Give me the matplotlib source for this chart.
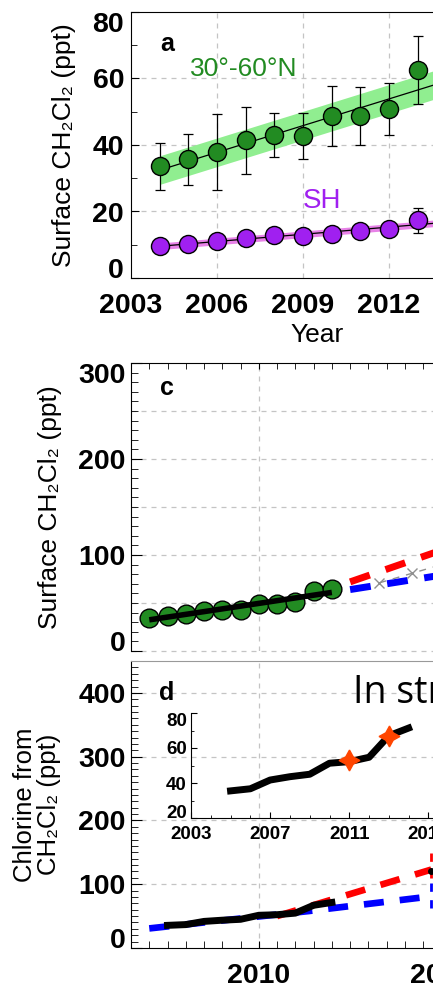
import numpy as np
import matplotlib
matplotlib.use('Agg')
import matplotlib.pyplot as plt
from matplotlib.patches import Rectangle
from matplotlib.ticker import MultipleLocator, NullFormatter

plt.rcParams['font.family'] = ['Liberation Sans', 'DejaVu Sans']
plt.rcParams['font.weight'] = 'bold'
plt.rcParams['xtick.direction'] = 'in'
plt.rcParams['ytick.direction'] = 'in'

# --- panel a: surface CH2Cl2 annual means ---
years_a = [2004, 2005, 2006, 2007, 2008, 2009, 2010, 2011, 2012, 2013]
nh_mean = [33.6, 35.7, 37.9, 41.4, 42.9, 42.7, 48.7, 48.6, 50.9, 62.5]
nh_err = [7.0, 7.6, 11.5, 10.0, 6.6, 6.9, 9.0, 8.7, 7.8, 10.2]
sh_mean = [9.7, 10.2, 11.1, 12.0, 12.8, 12.6, 13.3, 14.2, 14.7, 17.3]
sh_err = [0.8, 0.8, 0.9, 0.9, 1.0, 1.0, 1.0, 1.1, 1.2, 3.7]
nh_band = 4.3
sh_band = 1.0

# --- panel c: surface record and projections ---
years_c = [2004, 2005, 2006, 2007, 2008, 2009, 2010, 2011, 2012, 2013, 2014]
surf_c = [34.5, 36.5, 38.5, 41.7, 43.2, 43.0, 49.2, 49.0, 51.0, 63.0, 64.5]
proj_years_c = [2015, 2021]
high_c = [72, 111.6]
low_c = [64, 82]
mid_years_c = [2016.6, 2018.4, 2020.2]
mid_c = [71, 81, 91]

# --- panel d: chlorine from CH2Cl2 ---
cl_years = [2005, 2006, 2007, 2008, 2009, 2010, 2011, 2012, 2013, 2014]
cl_obs = [35.5, 36.7, 41.7, 43.6, 45.0, 51.3, 52.2, 54.7, 67.0, 71.4]
high_years_d = [2011, 2019.45]
high_d = [50, 123]
low_years_d = [2004, 2012.7, 2019.45]
low_d = [30.7, 57.8, 81]
range_year = 2019.45
high_range = [110, 152]
low_range = [62, 104]
star_years = [2011, 2013]
star_vals = [53, 67]

GREEN = '#228B22'
PURPLE = '#A020F0'
GRID = dict(color='#c4c4c4', lw=0.9, ls=(0, (4, 4)), zorder=0)
TICK_FS = 20.5

fig = plt.figure(figsize=(4.41, 9.88), dpi=100)


def px_axes(left, top, width, height):
    return fig.add_axes([left / 441, 1 - (top + height) / 988, width / 441, height / 988])


def tuck_end_labels(axis, first=True, last=True):
    # keep the end labels inside the axis range
    ticks = axis.get_major_ticks()
    if first:
        ticks[0].label1.set_verticalalignment('baseline')
    if last:
        ticks[-1].label1.set_verticalalignment('top')


# ---------------- panel a ----------------
ax = px_axes(131, 12, 372.7, 266)
ax.set_xlim(2003, 2016)
ax.set_ylim(0, 80)
for y in [20, 40, 60]:
    ax.axhline(y, **GRID)
for x in [2006, 2009, 2012, 2015]:
    ax.axvline(x, **GRID)

xfit = np.array([2004, 2016])
for mean, err, band, col, bcol in [(nh_mean, nh_err, nh_band, GREEN, '#90EE90'),
                                     (sh_mean, sh_err, sh_band, PURPLE, '#E882E8')]:
    k, b = np.polyfit(years_a, mean, 1)
    ax.fill_between(xfit, k * xfit + b - band, k * xfit + b + band, color=bcol, lw=0, zorder=1)
    ax.plot(xfit, k * xfit + b, color='black', lw=0.9, zorder=2)
    ax.errorbar(years_a, mean, yerr=err, fmt='none', ecolor='black', elinewidth=0.9,
                capsize=3.5, capthick=0.9, zorder=3)
    ax.plot(years_a, mean, 'o', ms=13, mfc=col, mec='black', mew=1, zorder=4)

ax.set_xticks([2003, 2006, 2009, 2012, 2015])
ax.set_yticks([0, 20, 40, 60, 80])
ax.yaxis.set_minor_locator(MultipleLocator(10))
ax.tick_params(axis='both', labelsize=TICK_FS)
ax.tick_params(axis='x', length=0, pad=11)
ax.tick_params(axis='y', which='major', length=6, pad=5)
ax.tick_params(axis='y', which='minor', length=4)
tuck_end_labels(ax.yaxis)
ax.spines['right'].set_visible(False)
ax.set_xlabel('Year', fontsize=19, labelpad=3)
ax.set_ylabel('Surface CH₂Cl₂ (ppt)', fontsize=19)
ax.yaxis.set_label_coords(-0.148, 0.5)
ax.text(0.078, 0.855, 'a', transform=ax.transAxes, fontsize=18)
ax.text(0.158, 0.76, '30°-60°N', transform=ax.transAxes, fontsize=19,
        fontweight='normal', color=GREEN)
ax.text(0.462, 0.265, 'SH', transform=ax.transAxes, fontsize=20,
        fontweight='normal', color=PURPLE)

# ---------------- panel c ----------------
ax = px_axes(131, 363, 493, 288)
ax.set_xlim(2003, 2030)
ax.set_ylim(0, 300)
for y in [50, 100, 150, 200, 250]:
    ax.axhline(y, **GRID)
ax.axhline(0, clip_on=False, **GRID)
for x in [2010, 2020]:
    ax.axvline(x, **GRID)

ax.plot(proj_years_c, high_c, color='#FF0000', lw=5, ls=(0, (3, 2.4)), zorder=2)
ax.plot(proj_years_c, low_c, color='#0000FF', lw=5, ls=(0, (3, 2.4)), zorder=2)
ax.plot(mid_years_c, mid_c, color='#909090', lw=1, ls=(0, (5, 5)), marker='x',
        ms=7, mew=1, zorder=3)
ax.plot(years_c, surf_c, 'o', ms=13.5, mfc=GREEN, mec='black', mew=1, zorder=4)
k, b = np.polyfit(years_c, surf_c, 1)
xs = np.array([years_c[0], years_c[-1]])
ax.plot(xs, k * xs + b, color='black', lw=4, solid_capstyle='butt', zorder=5)

ax.xaxis.set_major_locator(MultipleLocator(10))
ax.xaxis.set_minor_locator(MultipleLocator(1))
ax.xaxis.set_major_formatter(NullFormatter())
ax.tick_params(axis='x', which='both', bottom=False, top=True, length=4)
ax.set_yticks([0, 100, 200, 300])
ax.yaxis.set_minor_locator(MultipleLocator(10))
ax.tick_params(axis='y', labelsize=TICK_FS, pad=4)
ax.tick_params(axis='y', which='major', length=8)
ax.tick_params(axis='y', which='minor', length=5)
tuck_end_labels(ax.yaxis)
ax.spines['right'].set_visible(False)
ax.spines['bottom'].set_visible(False)
ax.set_ylabel('Surface CH₂Cl₂ (ppt)', fontsize=19)
ax.yaxis.set_label_coords(-0.140, 0.5)
ax.text(0.058, 0.89, 'c', transform=ax.transAxes, fontsize=18)

# ---------------- panel d ----------------
ax = px_axes(131, 661, 493, 287)
ax.set_xlim(2003, 2030)
ax.set_ylim(0, 450)
for y in [100, 200, 300, 400]:
    ax.axhline(y, **GRID)
for x in [2010, 2020]:
    ax.axvline(x, **GRID)

ax.plot(low_years_d, low_d, color='#0000FF', lw=4.8, ls=(0, (3, 2.4)), zorder=2)
ax.plot(high_years_d, high_d, color='#FF0000', lw=4.8, ls=(0, (3, 2.4)), zorder=2)
ax.plot([range_year] * 2, high_range, color='#FF0000', lw=2, ls=(0, (3, 3)), zorder=2)
ax.plot([range_year] * 2, low_range, color='#0000FF', lw=2, ls=(0, (3, 3)), zorder=2)
ax.plot([range_year], [120], 'o', ms=4, color='black', zorder=3)
ax.plot(cl_years, cl_obs, color='black', lw=5, zorder=4)

ax.xaxis.set_major_locator(MultipleLocator(10))
ax.xaxis.set_minor_locator(MultipleLocator(1))
ax.tick_params(axis='x', which='both', length=5, labelsize=TICK_FS, pad=11)
ax.set_yticks([0, 100, 200, 300, 400])
ax.yaxis.set_minor_locator(MultipleLocator(10))
ax.tick_params(axis='y', labelsize=TICK_FS, pad=4)
ax.tick_params(axis='y', which='major', length=8)
ax.tick_params(axis='y', which='minor', length=5)
tuck_end_labels(ax.yaxis, last=False)
ax.spines['right'].set_visible(False)
ax.spines['top'].set_color('#999999')
ax.set_ylabel('Chlorine from\nCH₂Cl₂ (ppt)', fontsize=18.5, linespacing=1.0)
ax.yaxis.set_label_coords(-0.142, 0.5)
ax.text(0.057, 0.865, 'd', transform=ax.transAxes, fontsize=18)
fig.text(353 / 441, 1 - 703 / 988, 'In stratosphere', fontsize=27,
         family='Open Sans', fontweight='normal', va='baseline', zorder=3)

# inset: recent chlorine growth
ins = px_axes(191, 713, 277, 105)
ins.patch.set_visible(False)
ins.set_xlim(2003, 2017)
ins.set_ylim(20, 80)
ins.plot(cl_years, cl_obs, color='black', lw=5, zorder=2)
ins.plot(star_years, star_vals, ls='none', marker=(4, 1, 0), ms=15,
         color='#FF4500', zorder=3)
ins.set_xticks([2003, 2007, 2011, 2015])
ins.xaxis.set_minor_locator(MultipleLocator(1))
ins.set_yticks([20, 40, 60, 80])
ins.yaxis.set_minor_locator(MultipleLocator(10))
ins.tick_params(axis='both', labelsize=13.5)
ins.tick_params(axis='x', pad=6)
ins.tick_params(axis='y', pad=3)
ins.tick_params(which='major', length=4)
ins.tick_params(which='minor', length=2.5)
tuck_end_labels(ins.yaxis)
ins.spines['top'].set_visible(False)
ins.spines['right'].set_visible(False)

# blank strip along the right-hand edge
fig.patches.append(Rectangle((433 / 441, 0), 8 / 441, 1, transform=fig.transFigure,
                             facecolor='white', edgecolor='none', zorder=10))

fig.savefig('out.png', dpi=100)
